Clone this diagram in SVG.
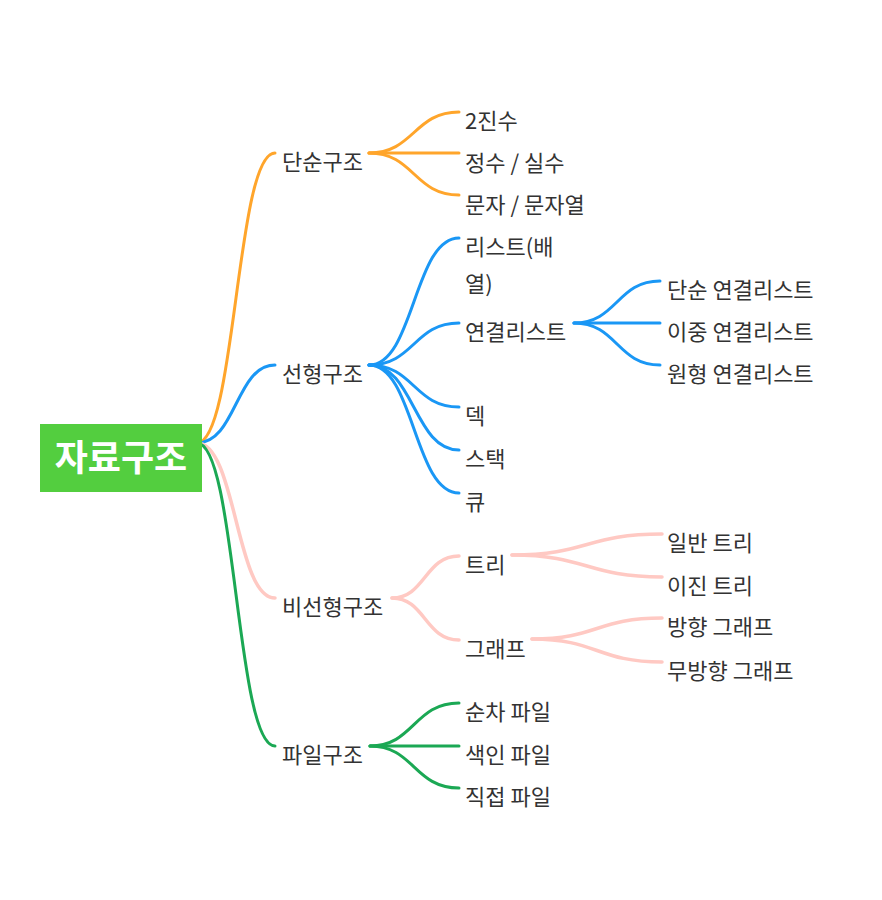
<svg xmlns="http://www.w3.org/2000/svg" width="882" height="900" viewBox="0 0 882 900">
<style>
  text { font-family: "Noto Sans CJK KR", "Noto Sans", sans-serif; font-size: 22px; fill: #333333; }
  .root-text { font-size: 36px; font-weight: bold; fill: #ffffff; }
  path { fill: none; stroke-width: 3; stroke-linecap: round; }
  .o { stroke: #FFA52B; }
  .b { stroke: #1A97F5; }
  .p { stroke: #FFC9C3; stroke-width: 3.5; }
  .g { stroke: #1BA854; }
</style>
<rect width="882" height="900" fill="#ffffff"/>
<g id="connectors">
  <path class="o" d="M197,443 C236,443 236,153 275,153"/>
  <path class="b" d="M197,443 C236,443 236,365 275,365"/>
  <path class="p" d="M197,443 C236,443 236,598 275,598"/>
  <path class="g" d="M197,443 C236,443 236,746 275,746"/>
  <path class="o" d="M369,153 C414,153 414,112 459,112"/>
  <path class="o" d="M369,153 L459,153"/>
  <path class="o" d="M369,153 C414,153 414,195 459,195"/>
  <path class="b" d="M369,365 C414,365 414,238 459,238"/>
  <path class="b" d="M369,365 C414,365 414,323 459,323"/>
  <path class="b" d="M369,365 C414,365 414,407 459,407"/>
  <path class="b" d="M369,365 C414,365 414,450 459,450"/>
  <path class="b" d="M369,365 C414,365 414,493 459,493"/>
  <path class="b" d="M574,323 C617,323 617,281 660,281"/>
  <path class="b" d="M574,323 L660,323"/>
  <path class="b" d="M574,323 C617,323 617,365 660,365"/>
  <path class="p" d="M392,598 C425,598 425,556 459,556"/>
  <path class="p" d="M392,598 C425,598 425,640 459,640"/>
  <path class="p" d="M512,555 C587,555 587,534 662,534"/>
  <path class="p" d="M512,555 C587,555 587,577 662,577"/>
  <path class="p" d="M532,639 C597,639 597,618 662,618"/>
  <path class="p" d="M532,639 C597,639 597,662 662,662"/>
  <path class="g" d="M370,746 C414,746 414,703 459,703"/>
  <path class="g" d="M370,746 L459,746"/>
  <path class="g" d="M370,746 C414,746 414,788 459,788"/>
</g>
<g id="root">
  <rect x="40" y="424" width="162" height="68" fill="#53CE3F"/>
  <text class="root-text" x="121" y="471" text-anchor="middle">자료구조</text>
</g>
<g id="n-simple"><text x="282" y="170">단순구조</text></g>
<g id="n-binary"><text x="465" y="129">2진수</text></g>
<g id="n-int"><text x="465" y="171">정수 / 실수</text></g>
<g id="n-char"><text x="465" y="213">문자 / 문자열</text></g>
<g id="n-linear"><text x="282" y="382">선형구조</text></g>
<g id="n-list"><text x="465" y="255">리스트(배</text><text x="465" y="292">열)</text></g>
<g id="n-linked"><text x="465" y="340">연결리스트</text></g>
<g id="n-single"><text x="667" y="298">단순 연결리스트</text></g>
<g id="n-double"><text x="667" y="340">이중 연결리스트</text></g>
<g id="n-circular"><text x="667" y="382">원형 연결리스트</text></g>
<g id="n-deque"><text x="465" y="424">덱</text></g>
<g id="n-stack"><text x="465" y="467">스택</text></g>
<g id="n-queue"><text x="465" y="510">큐</text></g>
<g id="n-nonlinear"><text x="282" y="615">비선형구조</text></g>
<g id="n-tree"><text x="465" y="573">트리</text></g>
<g id="n-general-tree"><text x="667" y="551">일반 트리</text></g>
<g id="n-binary-tree"><text x="667" y="594">이진 트리</text></g>
<g id="n-graph"><text x="465" y="657">그래프</text></g>
<g id="n-directed"><text x="667" y="635">방향 그래프</text></g>
<g id="n-undirected"><text x="667" y="679">무방향 그래프</text></g>
<g id="n-file"><text x="282" y="763">파일구조</text></g>
<g id="n-seq"><text x="465" y="720">순차 파일</text></g>
<g id="n-index"><text x="465" y="763">색인 파일</text></g>
<g id="n-direct"><text x="465" y="805">직접 파일</text></g>
</svg>
